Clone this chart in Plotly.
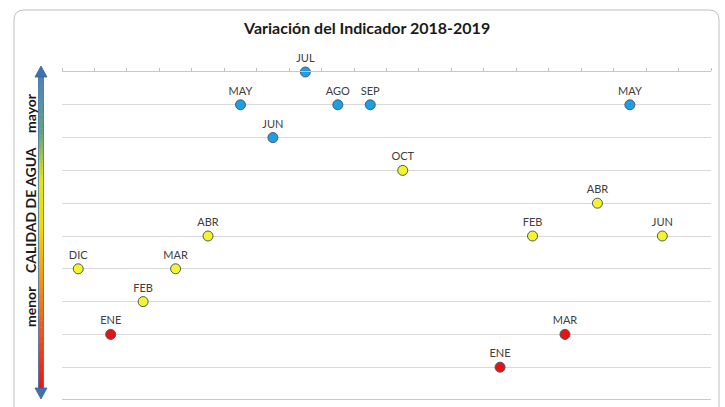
import plotly.graph_objects as go

# ---- data ----
month_labels = ["DIC", "ENE", "FEB", "MAR", "ABR", "MAY", "JUN", "JUL", "AGO", "SEP", "OCT",
                "ENE", "FEB", "MAR", "ABR", "MAY", "JUN"]
month_pos = [1, 2, 3, 4, 5, 6, 7, 8, 9, 10, 11, 14, 15, 16, 17, 18, 19]
quality = [4, 2, 3, 4, 5, 9, 8, 10, 9, 9, 7, 1, 5, 2, 6, 9, 5]
quality_class = ["media", "baja", "media", "media", "media", "alta", "alta", "alta", "alta", "alta",
                 "media", "baja", "media", "baja", "media", "alta", "media"]
class_colors = {"alta": "#1e9fe3", "media": "#f4f42c", "baja": "#e81212"}

W, H = 725, 407
L, R, T, B = 62, 14, 72, 7
pw, ph = W - L - R, H - T - B

def px(x):
    return (x - L) / pw

def py(y):
    return (H - B - y) / ph

fig = go.Figure()
fig.add_trace(go.Scatter(
    x=month_pos, y=quality, mode="markers+text",
    text=month_labels, textposition="top center",
    textfont=dict(family="Lato", size=11, color="#404040"),
    marker=dict(size=10, color=[class_colors[c] for c in quality_class],
                line=dict(color="#4a5a6a", width=1)),
    cliponaxis=False, hoverinfo="skip", showlegend=False,
))

shapes = []
# chart border (rounded)
shapes.append(dict(type="path", xref="paper", yref="paper",
                   path=f"M {px(14)} {py(420)} L {px(14)} {py(20)} Q {px(14)} {py(10)} {px(24)} {py(10)} "
                        f"L {px(709)} {py(10)} Q {px(719)} {py(10)} {px(719)} {py(20)} L {px(719)} {py(420)}",
                   line=dict(color="#bfbfbf", width=1)))

# gradient shaft of the arrow
def lerp(c1, c2, t):
    return tuple(int(round(a + (b - a) * t)) for a, b in zip(c1, c2))

stops = [(0.0, (79, 129, 189)), (0.18, (100, 165, 120)), (0.33, (225, 230, 20)),
         (0.48, (250, 215, 0)), (0.72, (248, 120, 20)), (1.0, (235, 20, 20))]
y0, y1 = 76, 390
n = 90
for i in range(n):
    t = i / (n - 1)
    for j in range(len(stops) - 1):
        if stops[j][0] <= t <= stops[j + 1][0]:
            tt = (t - stops[j][0]) / (stops[j + 1][0] - stops[j][0])
            c = lerp(stops[j][1], stops[j + 1][1], tt)
            break
    ya = y0 + (y1 - y0) * i / n
    yb = y0 + (y1 - y0) * (i + 1) / n + 0.5
    shapes.append(dict(type="rect", xref="paper", yref="paper",
                       x0=px(38.5), x1=px(43.5), y0=py(ya), y1=py(yb),
                       line=dict(width=0), fillcolor=f"rgb{c}"))
# shaft outline
shapes.append(dict(type="rect", xref="paper", yref="paper", x0=px(38.5), x1=px(43.5),
                   y0=py(y0), y1=py(y1), line=dict(color="#3a6ea8", width=0.8)))
# arrow heads
shapes.append(dict(type="path", xref="paper", yref="paper",
                   path=f"M {px(41)} {py(66)} L {px(35)} {py(77)} L {px(47)} {py(77)} Z",
                   fillcolor="#3f72b0", line=dict(color="#35639b", width=0.8)))
shapes.append(dict(type="path", xref="paper", yref="paper",
                   path=f"M {px(41)} {py(399)} L {px(35)} {py(388)} L {px(47)} {py(388)} Z",
                   fillcolor="#3f72b0", line=dict(color="#35639b", width=0.8)))
# bottom axis line
shapes.append(dict(type="line", xref="paper", yref="y", x0=0, x1=1, y0=0, y1=0,
                   line=dict(color="#c8c8c8", width=2)))

annotations = [
    dict(text="<b>Variación del Indicador 2018-2019</b>", xref="paper", yref="paper",
         x=px(366), y=py(27), showarrow=False, xanchor="center", yanchor="middle",
         font=dict(family="Lato", size=16, color="#1a1a1a")),
]
for txt, yc in [("mayor", 113), ("CALIDAD DE AGUA", 210), ("menor", 307)]:
    annotations.append(dict(text=f"<b>{txt}</b>", xref="paper", yref="paper",
                            x=px(30), y=py(yc), showarrow=False, textangle=-90,
                            xanchor="center", yanchor="middle",
                            font=dict(family="Lato", size=14, color="#1a1a1a")))

fig.update_layout(
    width=W, height=H, margin=dict(l=L, r=R, t=T, b=B),
    paper_bgcolor="white", plot_bgcolor="white",
    shapes=shapes, annotations=annotations,
    xaxis=dict(range=[0.5, 20.5], side="top", showticklabels=False, showgrid=False,
               zeroline=False, ticks="outside", ticklen=3, tickcolor="#bfbfbf",
               tickvals=[i + 0.5 for i in range(21)], showline=True,
               linecolor="#c8c8c8", linewidth=1),
    yaxis=dict(range=[0, 10], showticklabels=False, showgrid=True, gridcolor="#d9d9d9",
               gridwidth=1, dtick=1, zeroline=False, showline=False),
)

fig.write_html("out.html", config={"displayModeBar": False},
               post_script="document.body.style.margin='0';document.body.style.overflow='hidden';")
